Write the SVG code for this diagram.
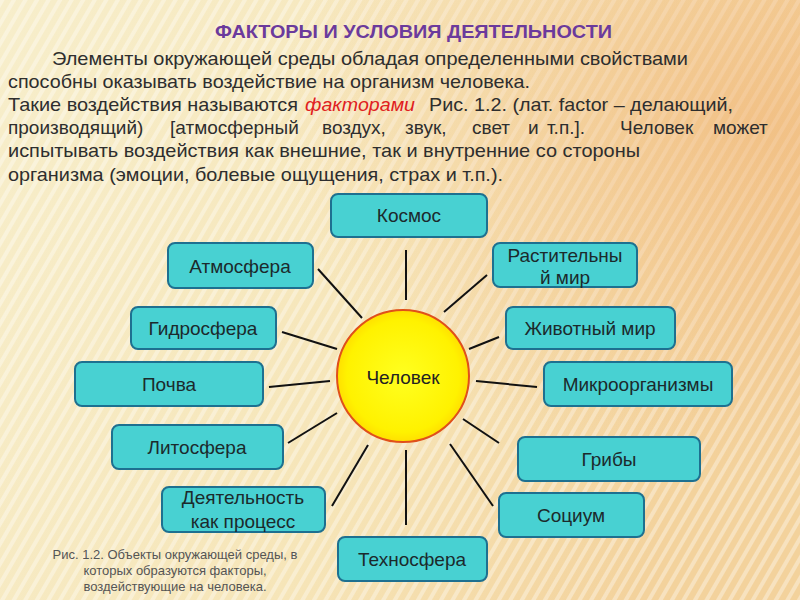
<svg xmlns="http://www.w3.org/2000/svg" width="800" height="600" viewBox="0 0 800 600">
<defs>
<linearGradient id="bg" x1="0" y1="0" x2="1" y2="0.3">
<stop offset="0" stop-color="#f7eecb"/>
<stop offset="0.6" stop-color="#f6e5b8"/>
<stop offset="1" stop-color="#f3d29c"/>
</linearGradient>
<radialGradient id="glow" cx="0.95" cy="0.2" r="0.6">
<stop offset="0" stop-color="#f0b070" stop-opacity="0.55"/>
<stop offset="1" stop-color="#f0b070" stop-opacity="0"/>
</radialGradient>
<pattern id="stripes" width="10" height="10" patternUnits="userSpaceOnUse" patternTransform="rotate(30)">
<rect width="4" height="10" fill="#ffffff" opacity="0.35"/>
</pattern>
<radialGradient id="sun" cx="0.5" cy="0.5" r="0.5">
<stop offset="0" stop-color="#ffff20"/>
<stop offset="0.85" stop-color="#fff200"/>
<stop offset="1" stop-color="#ffe000"/>
</radialGradient>
<style>
.node rect{fill:#48d1d2;stroke:#1e7090;stroke-width:2}
.node text{font-family:"Liberation Sans",Arial,sans-serif;font-size:19px;fill:#1c2a2c;text-anchor:middle}
.body{font-family:"Liberation Sans",Arial,sans-serif;font-size:19px;fill:#2e2e2e}
#connectors line{stroke:#111;stroke-width:2}
</style>
</defs>
<rect width="800" height="600" fill="url(#bg)"/>
<rect width="800" height="600" fill="url(#stripes)"/>
<rect width="800" height="600" fill="url(#glow)"/>

<text x="215" y="38" textLength="397" lengthAdjust="spacingAndGlyphs" font-family="Liberation Sans, Arial, sans-serif" font-size="18" font-weight="bold" fill="#6b3a9c">ФАКТОРЫ И УСЛОВИЯ ДЕЯТЕЛЬНОСТИ</text>

<g class="body">
<text x="52" y="65" textLength="636" lengthAdjust="spacingAndGlyphs">Элементы окружающей среды обладая определенными свойствами</text>
<text x="8" y="88" textLength="522" lengthAdjust="spacingAndGlyphs">способны оказывать воздействие на организм человека.</text>
<text y="111"><tspan x="8" textLength="290" lengthAdjust="spacingAndGlyphs">Такие воздействия называются</tspan><tspan x="305" fill="#e02020" font-style="italic" textLength="110" lengthAdjust="spacingAndGlyphs">факторами</tspan><tspan x="429" textLength="304" lengthAdjust="spacingAndGlyphs">Рис. 1.2. (лат. factor – делающий,</tspan></text>
<text y="134"><tspan x="8">производящий)</tspan><tspan x="170">[атмосферный</tspan><tspan x="322">воздух,</tspan><tspan x="405">звук,</tspan><tspan x="472">свет</tspan><tspan x="528">и</tspan><tspan x="547">т.п.].</tspan><tspan x="620">Человек</tspan><tspan x="713">может</tspan></text>
<text x="8" y="157" textLength="632" lengthAdjust="spacingAndGlyphs">испытывать воздействия как внешние, так и внутренние со стороны</text>
<text x="8" y="181" textLength="495" lengthAdjust="spacingAndGlyphs">организма (эмоции, болевые ощущения, страх и т.п.).</text>
</g>

<g id="connectors">
<line x1="406" y1="250" x2="406" y2="300"/>
<line x1="318" y1="269" x2="362" y2="318"/>
<line x1="282" y1="332" x2="337" y2="349"/>
<line x1="269" y1="387" x2="330" y2="381"/>
<line x1="288" y1="443" x2="337" y2="413"/>
<line x1="332" y1="506" x2="368" y2="445"/>
<line x1="406" y1="450" x2="406" y2="525"/>
<line x1="487" y1="275" x2="444" y2="312"/>
<line x1="499" y1="337" x2="469" y2="349"/>
<line x1="476" y1="381" x2="537" y2="387"/>
<line x1="463" y1="419" x2="499" y2="443"/>
<line x1="450" y1="444" x2="493" y2="506"/>
</g>

<g id="chelovek">
<circle cx="403" cy="376" r="66" fill="url(#sun)" stroke="#e0501a" stroke-width="2"/>
<text x="403" y="384" text-anchor="middle" font-family="Liberation Sans, Arial, sans-serif" font-size="19" fill="#222">Человек</text>
</g>

<g id="kosmos" class="node"><rect x="331" y="194" width="156" height="43" rx="7"/><text x="409" y="222">Космос</text></g>
<g id="atmosfera" class="node"><rect x="168" y="243" width="145" height="45" rx="7"/><text x="240" y="273">Атмосфера</text></g>
<g id="gidrosfera" class="node"><rect x="131" y="307" width="145" height="42" rx="7"/><text x="203" y="335">Гидросфера</text></g>
<g id="pochva" class="node"><rect x="75" y="362" width="188" height="44" rx="7"/><text x="169" y="391">Почва</text></g>
<g id="litosfera" class="node"><rect x="112" y="425" width="171" height="44" rx="7"/><text x="197" y="454">Литосфера</text></g>
<g id="deyatelnost" class="node"><rect x="162" y="487" width="163" height="45" rx="7"/><text x="243" y="504">Деятельность</text><text x="243" y="528">как процесс</text></g>
<g id="tehnosfera" class="node"><rect x="338" y="537" width="149" height="44" rx="7"/><text x="412" y="566">Техносфера</text></g>
<g id="rastitelny" class="node"><rect x="493" y="243" width="144" height="44" rx="7"/><text x="565" y="262">Растительны</text><text x="565" y="284">й мир</text></g>
<g id="zhivotny" class="node"><rect x="506" y="307" width="169" height="42" rx="7"/><text x="590" y="335">Животный мир</text></g>
<g id="mikro" class="node"><rect x="544" y="362" width="188" height="44" rx="7"/><text x="638" y="391">Микроорганизмы</text></g>
<g id="griby" class="node"><rect x="518" y="437" width="182" height="44" rx="7"/><text x="609" y="466">Грибы</text></g>
<g id="socium" class="node"><rect x="499" y="493" width="145" height="44" rx="7"/><text x="571" y="522">Социум</text></g>

<g font-family="Liberation Sans, Arial, sans-serif" font-size="13" fill="#555" text-anchor="middle">
<text x="175" y="559">Рис. 1.2.  Объекты окружающей среды, в</text>
<text x="175" y="575">которых образуются факторы,</text>
<text x="175" y="591">воздействующие на человека.</text>
</g>
</svg>
